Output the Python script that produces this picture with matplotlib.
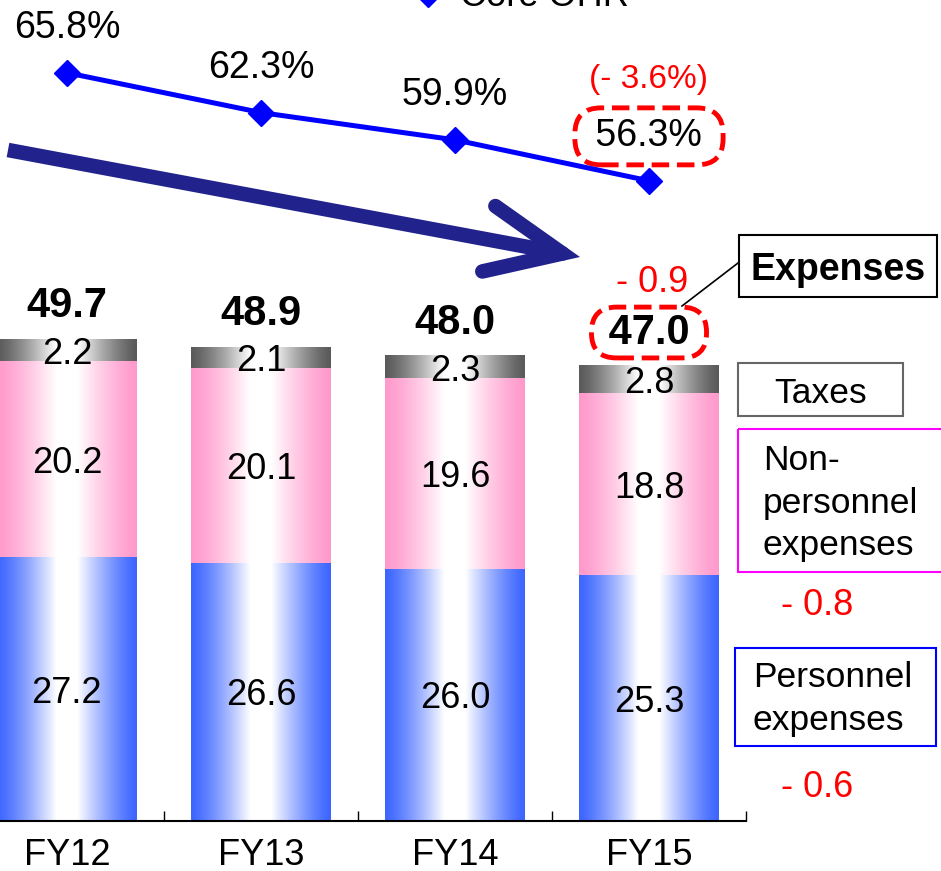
import numpy as np
import matplotlib
matplotlib.use("Agg")
import matplotlib.pyplot as plt
from matplotlib.lines import Line2D
from matplotlib.patches import Rectangle

plt.rcParams['font.family'] = ['Liberation Sans', 'DejaVu Sans']

# data
years = ['FY12', 'FY13', 'FY14', 'FY15']
personnel = [27.2, 26.6, 26.0, 25.3]
non_personnel = [20.2, 20.1, 19.6, 18.8]
taxes = [2.2, 2.1, 2.3, 2.8]
totals = [49.7, 48.9, 48.0, 47.0]
core_ohr = [65.8, 62.3, 59.9, 56.3]

W, H = 941, 871
fig = plt.figure(figsize=(W / 100, H / 100), dpi=100)
ax = fig.add_axes([0, 50 / H, 746 / W, 821 / H])
x = np.arange(len(years))


def gradient(color):
    # horizontal fill: saturated at the edges, white in the middle
    rgb = np.array(matplotlib.colors.to_rgb(color))
    t = np.linspace(0, 1, 256)
    d = np.abs(2 * t - 1)
    f = np.clip((1 - d) / 0.85, 0, 1) ** 1.3
    img = rgb[None, :] * (1 - f[:, None]) + f[:, None]
    return img[None, :, :]


def grad_bars(vals, bottom, color):
    bars = ax.bar(x, vals, 0.72, bottom=bottom, color='none', edgecolor='none')
    img = gradient(color)
    for r in bars:
        x0, y0 = r.get_x(), r.get_y()
        ax.imshow(img, extent=[x0, x0 + r.get_width(), y0, y0 + r.get_height()],
                  aspect='auto', zorder=1, interpolation='bilinear')
    return bars


b1 = grad_bars(personnel, 0, '#3D66FF')
b2 = grad_bars(non_personnel, personnel, '#FF99CC')
bottom3 = np.add(personnel, non_personnel)
b3 = grad_bars(taxes, bottom3, '#5A5A5A')

for bars, vals in [(b1, personnel), (b2, non_personnel), (b3, taxes)]:
    for r, v in zip(bars, vals):
        ax.text(r.get_x() + r.get_width() / 2, r.get_y() + r.get_height() / 2,
                f'{v:.1f}', ha='center', va='center_baseline', fontsize=26, zorder=3)

tops = bottom3 + np.array(taxes)
for i, (xi, top, tot) in enumerate(zip(x, tops, totals)):
    txt = f'{tot:.1f}' if i < 3 else f' {tot:.1f} '
    kw = {}
    if i == 3:
        kw['bbox'] = dict(boxstyle='round,pad=0.13,rounding_size=0.6', fc='none',
                          ec='red', lw=3.5, ls=(0, (3.6, 1.6)))
    ax.annotate(txt, (xi, top), xytext=(0, 24), textcoords='offset points',
                ha='center', va='center', fontsize=30, fontweight='bold', **kw)

ax.annotate('- 0.9', (x[3], tops[3]), xytext=(2, 63), textcoords='offset points',
            ha='center', va='center_baseline', fontsize=26, color='red')

ax.set_xlim(-0.345, 3.5)
ax.set_ylim(0, 84.6)
ax.set_xticks(x)
ax.set_xticklabels(years, fontsize=26)
ax.set_xticks([0.5, 1.5, 2.5, 3.5], minor=True)
ax.tick_params(axis='x', which='major', length=0, pad=12)
ax.tick_params(axis='x', which='minor', direction='in', length=7, width=1)
ax.set_yticks([])
for s in ['left', 'right', 'top']:
    ax.spines[s].set_visible(False)
ax.spines['bottom'].set_linewidth(1.5)

# Core OHR line on a second scale
ax2 = ax.twinx()
ax2.plot(x, core_ohr, color='#0000FF', lw=3.6, marker='D', ms=13, zorder=5, clip_on=False)
ax2.set_ylim(0, 72.2)
ax2.set_yticks([])
for s in ax2.spines.values():
    s.set_visible(False)
for i, (xi, v) in enumerate(zip(x, core_ohr)):
    txt = f'{v:.1f}%' if i < 3 else f' {v:.1f}% '
    kw = {}
    if i == 3:
        kw['bbox'] = dict(boxstyle='round,pad=0.28,rounding_size=0.7', fc='none',
                          ec='red', lw=3.5, ls=(0, (3.6, 1.6)))
    ax2.annotate(txt, (xi, v), xytext=(0, 32), textcoords='offset points',
                 ha='center', va='center', fontsize=27, **kw)
ax2.annotate('(- 3.6%)', (x[3], core_ohr[3]), xytext=(0, 73), textcoords='offset points',
             ha='center', va='center', fontsize=24, color='red')

fig.legend(handles=[Line2D([], [], color='#0000FF', marker='D', ms=13, ls='none')],
           labels=['Core OHR'], loc='center left', bbox_to_anchor=(410 / W, 1 + 3 / H),
           frameon=False, fontsize=26, borderpad=0, borderaxespad=0,
           handlelength=1.0, handletextpad=0.39)

# overlay for arrow and side notes (pixel coords)
ov = fig.add_axes([0, 0, 1, 1], zorder=10)
ov.set_xlim(0, W)
ov.set_ylim(H, 0)
ov.axis('off')
ov.patch.set_alpha(0)

navy = '#22228C'
ov.plot([8, 560], [150, 253], color=navy, lw=10.5, solid_capstyle='butt')
ov.annotate('', xy=(580, 257), xytext=(540, 249),
            arrowprops=dict(arrowstyle='->,head_length=2.7,head_width=1.2', lw=10.5,
                            color=navy, mutation_scale=20, shrinkA=0, shrinkB=0,
                            capstyle='round', joinstyle='miter'))

ov.add_patch(Rectangle((739, 235), 198, 62, fill=False, ec='black', lw=1.5))
ov.text(838, 266, 'Expenses', ha='center', va='center_baseline', fontsize=27,
        fontweight='bold')
ov.plot([738, 682], [263, 306], color='black', lw=1.2)

ov.add_patch(Rectangle((738, 363), 165, 53, fill=False, ec='#666666', lw=1.5))
ov.text(821, 390, 'Taxes', ha='center', va='center_baseline', fontsize=25.5)

ov.add_patch(Rectangle((738, 429), 215, 143, fill=False, ec='#FF00FF', lw=1.5, clip_on=False))
ov.text(763, 503, 'Non-\npersonnel\nexpenses', ha='left', va='center', fontsize=25.5,
        linespacing=1.38)

ov.add_patch(Rectangle((735, 648), 201, 98, fill=False, ec='#0000FF', lw=1.5))
ov.text(753, 699, 'Personnel\nexpenses', ha='left', va='center', fontsize=25.5,
        linespacing=1.38)

ov.text(817, 601, '- 0.8', ha='center', va='center_baseline', fontsize=26, color='red')
ov.text(817, 783, '- 0.6', ha='center', va='center_baseline', fontsize=26, color='red')

fig.savefig('out.png', dpi=100)
